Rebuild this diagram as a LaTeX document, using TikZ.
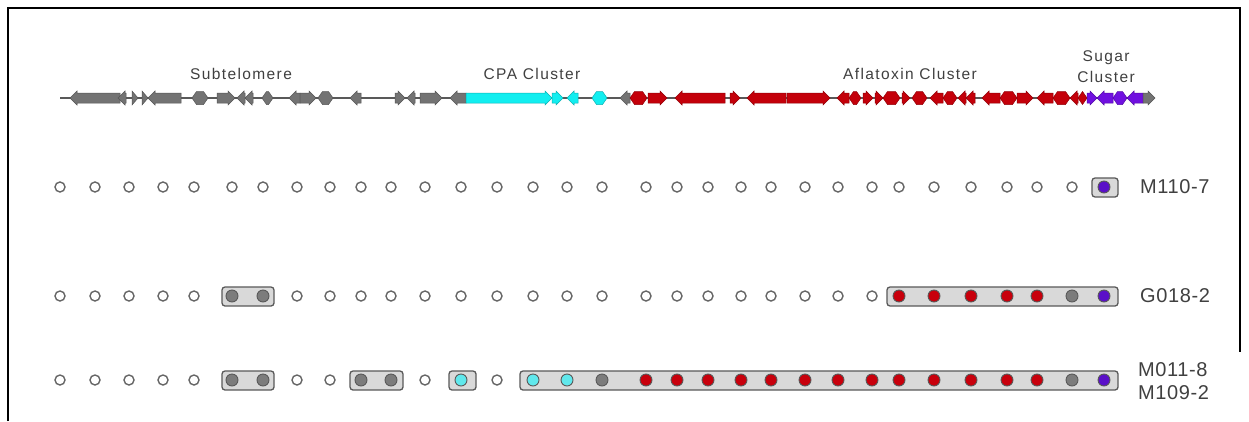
\documentclass[tikz,border=0pt]{standalone}
\usepackage{fontspec}
\setmainfont{Liberation Sans}
\begin{document}
\begin{tikzpicture}[x=1pt,y=-1pt,
  track/.style={draw=black!65, line width=1.6pt},
  opendot/.style={circle, draw=black!60, fill=white, line width=1.4pt, minimum size=10pt, inner sep=0pt},
  fdot/.style={circle, draw=black!65, fill=#1, line width=0.9pt, minimum size=12pt, inner sep=0pt},
  grpbox/.style={draw=black!65, fill=black!15, line width=1.3pt, rounded corners=3pt},
  clabel/.style={font=\fontsize{15.5}{21}\selectfont\addfontfeatures{LetterSpace=9}, text=black!75, inner sep=0pt},
  rlabel/.style={font=\fontsize{20}{23}\selectfont\addfontfeatures{LetterSpace=3}, text=black!75, inner sep=0pt, anchor=west},
  frame/.style={draw=black, line width=2pt}]
\definecolor{geneGray}{HTML}{737373}
\definecolor{geneCyan}{HTML}{12EEF0}
\definecolor{geneRed}{HTML}{C4000A}
\definecolor{genePurple}{HTML}{7010E0}
\definecolor{dotCyan}{HTML}{60E8EC}
\definecolor{dotGray}{HTML}{7C7C7C}
\definecolor{dotRed}{HTML}{C8000C}
\definecolor{dotPurple}{HTML}{5A10C8}

\useasboundingbox (0,0) rectangle (1249,421);
\fill[white] (0,0) rectangle (1249,421);
\draw[frame] (8,421) -- (8,8) -- (1240,8) -- (1240,352);

% gene drawing helpers: start, end, colour
\def\ty{98}
\newcommand{\gR}[3]{%
  \pgfmathsetmacro\hl{min(7,#2-#1)}%
  \filldraw[fill=#3, draw=#3!75!black, line width=0.5pt]
    (#1,\ty-5) -- (#2-\hl,\ty-5) -- (#2-\hl,\ty-7) -- (#2,\ty)
    -- (#2-\hl,\ty+7) -- (#2-\hl,\ty+5) -- (#1,\ty+5) -- cycle;}
\newcommand{\gL}[3]{%
  \pgfmathsetmacro\hl{min(7,#2-#1)}%
  \filldraw[fill=#3, draw=#3!75!black, line width=0.5pt]
    (#2,\ty-5) -- (#1+\hl,\ty-5) -- (#1+\hl,\ty-7) -- (#1,\ty)
    -- (#1+\hl,\ty+7) -- (#1+\hl,\ty+5) -- (#2,\ty+5) -- cycle;}
\newcommand{\gH}[3]{%
  \filldraw[fill=#3, draw=#3!75!black, line width=0.5pt]
    (#1,\ty) -- (#1+4.5,\ty-6.5) -- (#2-4.5,\ty-6.5) -- (#2,\ty)
    -- (#2-4.5,\ty+6.5) -- (#1+4.5,\ty+6.5) -- cycle;}

% chromosome backbone
\coordinate (tstart) at (60,\ty);
\coordinate (tend) at (1150,\ty);
\draw[track] (tstart) -- (tend);

% subtelomere genes
\gL{70}{120}{geneGray}
\gL{118}{126}{geneGray}
\gR{132}{138}{geneGray}
\gR{142}{148}{geneGray}
\gL{148}{181}{geneGray}
\gH{192}{208}{geneGray}
\gR{217}{235}{geneGray}
\gL{237}{245}{geneGray}
\gL{245}{253}{geneGray}
\gH{262}{273}{geneGray}
\gL{289}{300}{geneGray}
\gR{300}{316}{geneGray}
\gH{318}{333}{geneGray}
\gL{350}{361}{geneGray}
\gR{395}{405}{geneGray}
\gL{407}{415}{geneGray}
\gR{420}{442}{geneGray}
\gL{450}{466}{geneGray}
% CPA cluster
\gR{466}{552}{geneCyan}
\gR{552}{563}{geneCyan}
\gL{567}{578}{geneCyan}
\gH{592}{607}{geneCyan}
\gL{620}{630}{geneGray}
% aflatoxin cluster
\gH{630}{647}{geneRed}
\gR{648}{667}{geneRed}
\gL{675}{725}{geneRed}
\gR{730}{740}{geneRed}
\gL{747}{786}{geneRed}
\gR{787}{830}{geneRed}
\gL{837}{849}{geneRed}
\gH{849}{861}{geneRed}
\gR{863}{873}{geneRed}
\gR{875}{883}{geneRed}
\gH{883}{900}{geneRed}
\gR{902}{910}{geneRed}
\gH{912}{927}{geneRed}
\gL{930}{943}{geneRed}
\gH{943}{957}{geneRed}
\gL{958}{966}{geneRed}
\gL{966}{975}{geneRed}
\gL{982}{1000}{geneRed}
\gH{1000}{1017}{geneRed}
\gR{1017}{1033}{geneRed}
\gL{1037}{1053}{geneRed}
\gH{1053}{1070}{geneRed}
\gL{1070}{1078}{geneRed}
\gH{1078}{1087}{geneRed}
% sugar cluster
\gR{1087}{1097}{genePurple}
\gL{1097}{1113}{genePurple}
\gH{1113}{1127}{genePurple}
\gL{1127}{1143}{genePurple}
\gR{1143}{1155}{geneGray}

% cluster labels
\node[clabel] (lsub) at (241,74) {Subtelomere};
\node[clabel] (lcpa) at (532,74) {CPA Cluster};
\node[clabel] (lafl) at (910,74) {Aflatoxin Cluster};
\node[clabel, align=center] (lsug) at (1106,67) {Sugar\\Cluster};

% marker columns
\def\xs{60,95,129,163,194,232,263,297,330,361,391,425,461,497,533,567,602,646,677,708,741,771,805,838,872,899,934,971,1007,1037,1072,1104}
\foreach \x [count=\i] in \xs { \coordinate (c\i) at (\x,0); }
\coordinate (r1) at (0,187);
\coordinate (r2) at (0,296);
\coordinate (r3) at (0,380);

% group boxes
\draw[grpbox] (1092,178) rectangle (1118,197);
\draw[grpbox] (222,287) rectangle (274,306);
\draw[grpbox] (887,287) rectangle (1118,306);
\draw[grpbox] (222,371) rectangle (274,390);
\draw[grpbox] (350,371) rectangle (403,390);
\draw[grpbox] (449,371) rectangle (476,390);
\draw[grpbox] (520,371) rectangle (1118,390);

% row 1
\foreach \i in {1,...,31} \node[opendot] (a\i) at (c\i |- r1) {};
\node[fdot=dotPurple] (a32) at (c32 |- r1) {};
% row 2
\foreach \i in {1,...,5,8,9,...,25} \node[opendot] (b\i) at (c\i |- r2) {};
\foreach \i in {6,7,31} \node[fdot=dotGray] (b\i) at (c\i |- r2) {};
\foreach \i in {26,...,30} \node[fdot=dotRed] (b\i) at (c\i |- r2) {};
\node[fdot=dotPurple] (b32) at (c32 |- r2) {};
% row 3
\foreach \i in {1,...,5,8,9,12,14} \node[opendot] (d\i) at (c\i |- r3) {};
\foreach \i in {6,7,10,11,17,31} \node[fdot=dotGray] (d\i) at (c\i |- r3) {};
\foreach \i in {13,15,16} \node[fdot=dotCyan] (d\i) at (c\i |- r3) {};
\foreach \i in {18,...,30} \node[fdot=dotRed] (d\i) at (c\i |- r3) {};
\node[fdot=dotPurple] (d32) at (c32 |- r3) {};

% strain labels
\node[rlabel] (s1) at (1140,187) {M110-7};
\node[rlabel] (s2) at (1140,296) {G018-2};
\node[rlabel] (s3) at (1138,370) {M011-8};
\node[rlabel] (s4) at (1138,393) {M109-2};
\end{tikzpicture}
\end{document}
